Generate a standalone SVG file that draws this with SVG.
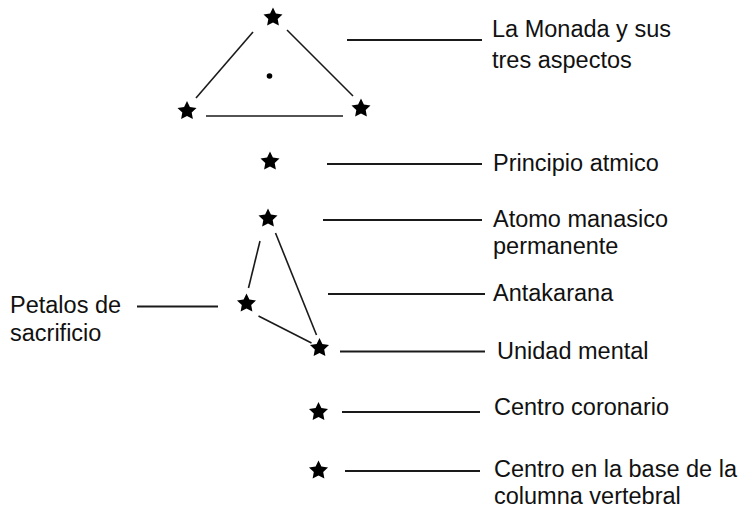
<svg xmlns="http://www.w3.org/2000/svg" width="751" height="512" viewBox="0 0 751 512">
<style>
.t{font-family:"Liberation Sans",Arial,sans-serif;font-size:23.5px;fill:#111}
.c line{stroke:#1a1a1a;stroke-width:2;stroke-linecap:butt}
.c .tri{stroke-width:1.6}
.s{fill:#000}
</style>
<defs>
<polygon id="star" points="0,-10 2.9,-4 9.51,-3.09 4.7,1.55 5.88,8.09 0,5 -5.88,8.09 -4.7,1.55 -9.51,-3.09 -2.9,-4"/>
</defs>
<rect width="751" height="512" fill="#fff"/>
<g class="c" id="connectors">
<line class="tri" x1="253" y1="32" x2="196" y2="98"/>
<line class="tri" x1="287" y1="30" x2="353" y2="96"/>
<line class="tri" x1="206" y1="116" x2="343" y2="116"/>
<line class="tri" x1="260" y1="241" x2="248.5" y2="288"/>
<line class="tri" x1="275.5" y1="233" x2="316.5" y2="335"/>
<line class="tri" x1="258.5" y1="316" x2="311.5" y2="343"/>
<line x1="347" y1="40" x2="482" y2="40"/>
<line x1="327" y1="164" x2="482" y2="164"/>
<line x1="323" y1="220" x2="482" y2="220"/>
<line x1="328" y1="294" x2="485" y2="294"/>
<line x1="340" y1="351.5" x2="485" y2="351.5"/>
<line x1="342" y1="412" x2="480" y2="412"/>
<line x1="345" y1="471" x2="480" y2="471"/>
<line x1="137" y1="306.5" x2="218" y2="306.5"/>
</g>
<g id="monada">
<use href="#star" class="s" x="273" y="17.5"/>
<use href="#star" class="s" x="187" y="111"/>
<use href="#star" class="s" x="361" y="108.5"/>
<circle cx="269.5" cy="76" r="2.8" class="s"/>
<text class="t" x="492" y="37">La Monada y sus</text>
<text class="t" x="492" y="68">tres aspectos</text>
</g>
<g id="principio">
<use href="#star" class="s" x="270" y="161.5"/>
<text class="t" x="493" y="171">Principio atmico</text>
</g>
<g id="atomo">
<use href="#star" class="s" x="268" y="218.5"/>
<text class="t" x="493" y="227">Atomo manasico</text>
<text class="t" x="493" y="253.5">permanente</text>
</g>
<g id="antakarana">
<text class="t" x="493" y="301">Antakarana</text>
</g>
<g id="petalos">
<use href="#star" class="s" x="246.5" y="303.5"/>
<text class="t" x="10" y="313">Petalos de</text>
<text class="t" x="10" y="341">sacrificio</text>
</g>
<g id="unidad">
<use href="#star" class="s" x="319.5" y="348"/>
<text class="t" x="497" y="359">Unidad mental</text>
</g>
<g id="coronario">
<use href="#star" class="s" x="318.5" y="412"/>
<text class="t" x="494" y="415">Centro coronario</text>
</g>
<g id="base">
<use href="#star" class="s" x="318.5" y="470.5"/>
<text class="t" x="494" y="477">Centro en la base de la</text>
<text class="t" x="494" y="504">columna vertebral</text>
</g>
</svg>
